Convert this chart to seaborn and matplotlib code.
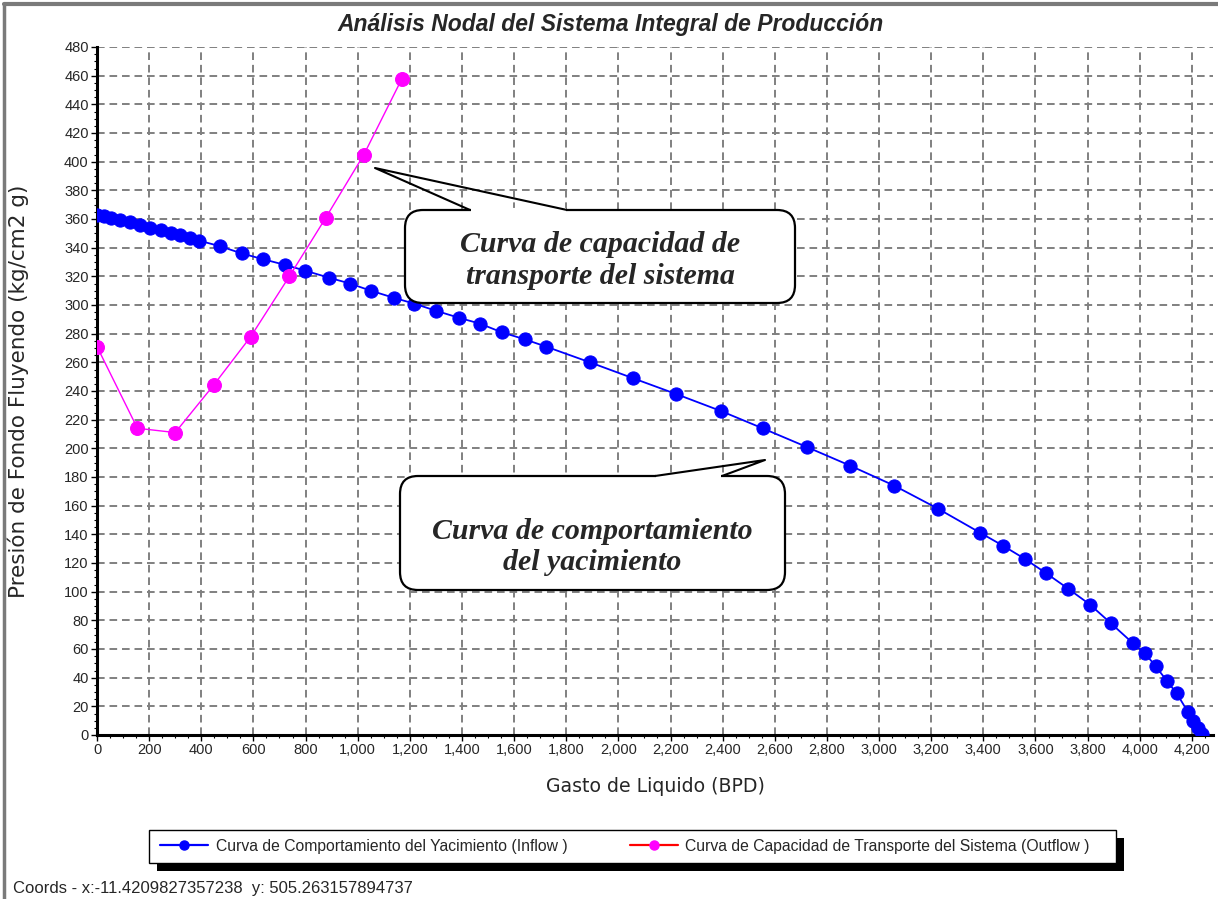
import seaborn as sns
import matplotlib.pyplot as plt
import pandas as pd
from matplotlib.lines import Line2D
from matplotlib.patches import FancyBboxPatch, Rectangle
from matplotlib.ticker import MultipleLocator, FuncFormatter

# Curva de comportamiento del yacimiento (Inflow)
inflow_q = [0, 25, 55, 90, 125, 165, 205, 245, 285, 320, 355, 390, 472, 555, 636, 721,
            798, 891, 970, 1050, 1139, 1216, 1300, 1390, 1469, 1552, 1642, 1722, 1891,
            2055, 2220, 2394, 2553, 2722, 2888, 3058, 3225, 3389, 3476, 3558, 3640, 3726,
            3809, 3889, 3974, 4020, 4061, 4103, 4142, 4185, 4204, 4223, 4240]
inflow_p = [363, 362, 361, 359, 358, 356, 354, 352, 350, 349, 347, 345, 341, 336, 332, 328,
            324, 319, 315, 310, 305, 301, 296, 291, 287, 281, 276, 271, 260,
            249, 238, 226, 214, 201, 188, 174, 158, 141, 132, 123, 113, 102,
            91, 78, 64, 57, 48, 38, 29, 16, 10, 5, 1]

# Curva de capacidad de transporte del sistema (Outflow)
outflow_q = [0, 155, 300, 447, 590, 738, 878, 1024, 1170]
outflow_p = [271, 214, 211, 244, 278, 320, 361, 405, 458]

TITLE = "Análisis Nodal del Sistema Integral de Producción"
X_LABEL = "Gasto de Liquido (BPD)"
Y_LABEL = "Presión de Fondo Fluyendo (kg/cm2 g)"
INFLOW_LABEL = "Curva de Comportamiento del Yacimiento (Inflow )"
OUTFLOW_LABEL = "Curva de Capacidad de Transporte del Sistema (Outflow )"
CALLOUT_OUT = "Curva de capacidad de\ntransporte del sistema"
CALLOUT_IN = "Curva de comportamiento\ndel yacimiento"
COORDS = "Coords - x:-11.4209827357238  y: 505.263157894737"

sns.set_theme(style="white")
plt.rcParams["font.family"] = ["Liberation Sans", "DejaVu Sans"]
plt.rcParams["lines.scale_dashes"] = False

W, H = 1218, 899
fig = plt.figure(figsize=(W / 100, H / 100), dpi=100)
fig.patch.set_facecolor("white")
ax = fig.add_axes([97 / W, 1 - 735 / H, (1213 - 97) / W, (735 - 47) / H])

inflow = pd.DataFrame({"q": inflow_q, "p": inflow_p})
outflow = pd.DataFrame({"q": outflow_q, "p": outflow_p})

sns.lineplot(data=inflow, x="q", y="p", sort=False, estimator=None, color="#0000FF",
             lw=1.3, marker="o", markersize=9.5, markeredgecolor="#0000FF", ax=ax, zorder=4)
sns.lineplot(data=outflow, x="q", y="p", sort=False, estimator=None, color="#FF00FF",
             lw=1.0, marker="o", markersize=10, markeredgecolor="#FF00FF", ax=ax, zorder=5)

ax.set_xlim(0, 4281)
ax.set_ylim(0, 480)
ax.xaxis.set_major_locator(MultipleLocator(200))
ax.xaxis.set_minor_locator(MultipleLocator(50))
ax.yaxis.set_major_locator(MultipleLocator(20))
ax.yaxis.set_minor_locator(MultipleLocator(5))
ax.xaxis.set_major_formatter(FuncFormatter(lambda v, _: f"{v:,.0f}"))
ax.grid(which="major", color="#808080", ls=(0, (5.5, 3.5)), lw=1.4)
ax.set_axisbelow(True)
for side in ("top", "right"):
    ax.spines[side].set_visible(False)
for side in ("left", "bottom"):
    ax.spines[side].set_linewidth(2.2)
    ax.spines[side].set_color("black")
ax.tick_params(which="major", direction="out", length=4, width=1, color="black",
               labelsize=10.5, pad=2, left=True, bottom=True)
ax.tick_params(which="minor", direction="out", length=2.5, width=0.8, color="black",
               left=True, bottom=True)

ax.set_xlabel(X_LABEL, fontsize=13.6, family="DejaVu Sans", va="center")
ax.xaxis.set_label_coords(0.5, (735 - 786) / 688)
ax.set_ylabel(Y_LABEL, fontsize=15.5, family="DejaVu Sans", va="center")
ax.yaxis.set_label_coords((18 - 97) / 1116, 0.5)

fig.text(611 / W, 1 - 25 / H, TITLE, ha="center", va="center", fontsize=16.5,
         weight="bold", style="italic")
fig.text(13 / W, 1 - 889 / H, COORDS, ha="left", va="center", fontsize=12)

# overlay in pixel coordinates for callouts, legend frame and window border
ov = fig.add_axes([0, 0, 1, 1], zorder=3)
ov.set_xlim(0, W)
ov.set_ylim(H, 0)
ov.axis("off")

ov.plot([4, 4], [4, H], color="#7a7a7a", lw=2.5)
ov.plot([4, W], [4, 4], color="#7a7a7a", lw=3)


def callout(box, base, tip, text, dy):
    x0, y0, x1, y1 = box
    ov.add_patch(FancyBboxPatch((x0, y0), x1 - x0, y1 - y0,
                                boxstyle="round,pad=0,rounding_size=18",
                                fc="white", ec="black", lw=1.6))
    bx0, bx1 = base
    ov.plot([bx0 + 1, bx1 - 1], [y0, y0], color="white", lw=3, solid_capstyle="butt")
    ov.plot([bx0, tip[0], bx1], [y0, tip[1], y0], color="black", lw=1.5)
    ov.text((x0 + x1) / 2, (y0 + y1) / 2 + dy, text, ha="center", va="center",
            family="Liberation Serif", weight="bold", style="italic", fontsize=21.5,
            linespacing=1.2)


callout((405, 210, 795, 303), (470, 567), (375, 168), CALLOUT_OUT, 4)
callout((400, 476, 785, 590), (655, 722), (765, 460), CALLOUT_IN, 14)

# legend frame with black drop shadow
ov.add_patch(Rectangle((157, 838), 967, 33, fc="black", ec="none"))
ov.add_patch(Rectangle((149, 830), 967, 33, fc="white", ec="black", lw=1))

handles = [
    Line2D([], [], color="#0000FF", lw=1.6, marker="o", ms=6.5, mfc="#0000FF", mec="#0000FF"),
    Line2D([], [], color="#FF0000", lw=1.6, marker="o", ms=6.5, mfc="#FF00FF", mec="#FF00FF"),
]
fig.legend(handles, [INFLOW_LABEL, OUTFLOW_LABEL], loc="center",
           bbox_to_anchor=(625 / W, 1 - 846 / H), ncol=2, frameon=False, fontsize=11.3,
           handlelength=3.05, handletextpad=0.47, columnspacing=4.0, borderpad=0)

plt.savefig("out.png", dpi=100)
